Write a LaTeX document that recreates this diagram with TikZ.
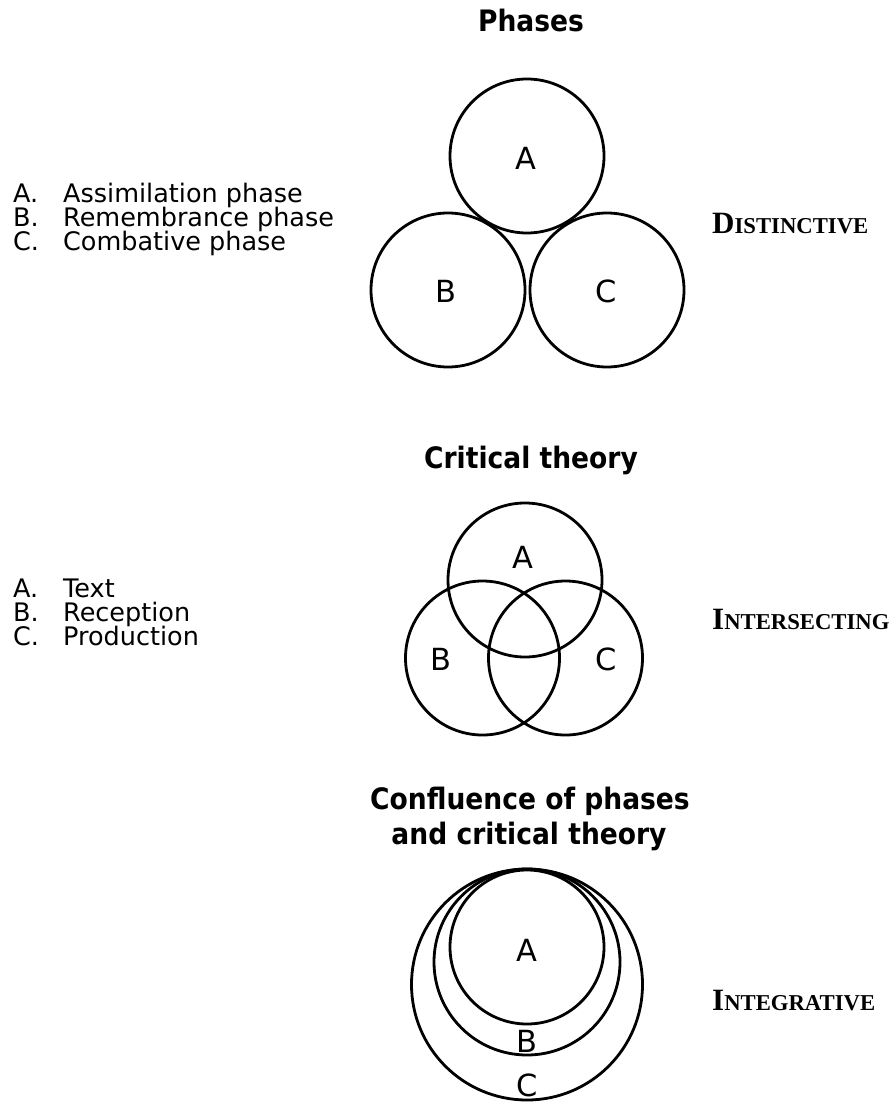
\documentclass[tikz,border=0pt]{standalone}
\usepackage{fontspec}
\setmainfont{DejaVu Sans}
\newfontfamily\titlefont{DejaVu Sans}[FakeStretch=0.9]
\newfontfamily\serifface{Liberation Serif}
\newcommand\fakesc[2]{{\serifface\bfseries\fontsize{31}{31}\selectfont #1\fontsize{22.7}{22.7}\selectfont #2}}
\newcommand\itemline[2]{\makebox[50pt][l]{#1}#2}
\begin{document}
\begin{tikzpicture}[x=1pt,y=-1pt,
  ring/.style={draw, circle, line width=2.8pt, inner sep=0pt},
  lbl/.style={font=\fontsize{30.5}{30}\selectfont, inner sep=0pt},
  ttl/.style={font=\titlefont\bfseries\fontsize{29.5}{35}\selectfont, anchor=base, inner sep=0pt},
  listitem/.style={font=\fontsize{25.5}{24}\selectfont, anchor=base west, inner sep=0pt},
  kind/.style={anchor=base west, inner sep=0pt}]
\useasboundingbox (0,0) rectangle (889,1102);
% ---------- Phases ----------
\node[ttl] (t1) at (531,32) {Phases};
\node[ring, minimum size=154pt] (p1A) at (527,156) {};
\node[ring, minimum size=154pt] (p1B) at (448,290) {};
\node[ring, minimum size=154pt] (p1C) at (607,290) {};
\node[lbl] (l1A) at (526,158) {A};
\node[lbl] (l1B) at (446,291) {B};
\node[lbl] (l1C) at (606,291) {C};
\node[listitem] (i1A) at (13,202) {\itemline{A.}{Assimilation phase}};
\node[listitem] (i1B) at (13,226) {\itemline{B.}{Remembrance phase}};
\node[listitem] (i1C) at (13,250) {\itemline{C.}{Combative phase}};
\node[kind] (k1) at (712,233) {\fakesc{D}{ISTINCTIVE}};
% ---------- Critical theory ----------
\node[ttl] (t2) at (531,468) {Critical theory};
\node[ring, minimum size=154pt] (p2A) at (525,580) {};
\node[ring, minimum size=154pt] (p2B) at (482.5,658) {};
\node[ring, minimum size=154pt] (p2C) at (565.5,658) {};
\node[lbl] (l2A) at (522.5,557) {A};
\node[lbl] (l2B) at (440.5,659) {B};
\node[lbl] (l2C) at (606,659) {C};
\node[listitem] (i2A) at (13,597) {\itemline{A.}{Text}};
\node[listitem] (i2B) at (13,621) {\itemline{B.}{Reception}};
\node[listitem] (i2C) at (13,645) {\itemline{C.}{Production}};
\node[kind] (k2) at (712,629) {\fakesc{I}{NTERSECTING}};
% ---------- Confluence ----------
\node[ttl] (t3a) at (530,809) {Confluence of phases};
\node[ttl] (t3b) at (529,844) {and critical theory};
\node[ring, minimum size=231pt] (p3C) at (527,984.5) {};
\node[ring, minimum size=186pt] (p3B) at (527,962) {};
\node[ring, minimum size=154pt] (p3A) at (527,947) {};
\node[lbl] (l3A) at (527,950) {A};
\node[lbl] (l3B) at (527,1041) {B};
\node[lbl] (l3C) at (527,1085) {C};
\node[kind] (k3) at (712,1010) {\fakesc{I}{NTEGRATIVE}};
\end{tikzpicture}
\end{document}
